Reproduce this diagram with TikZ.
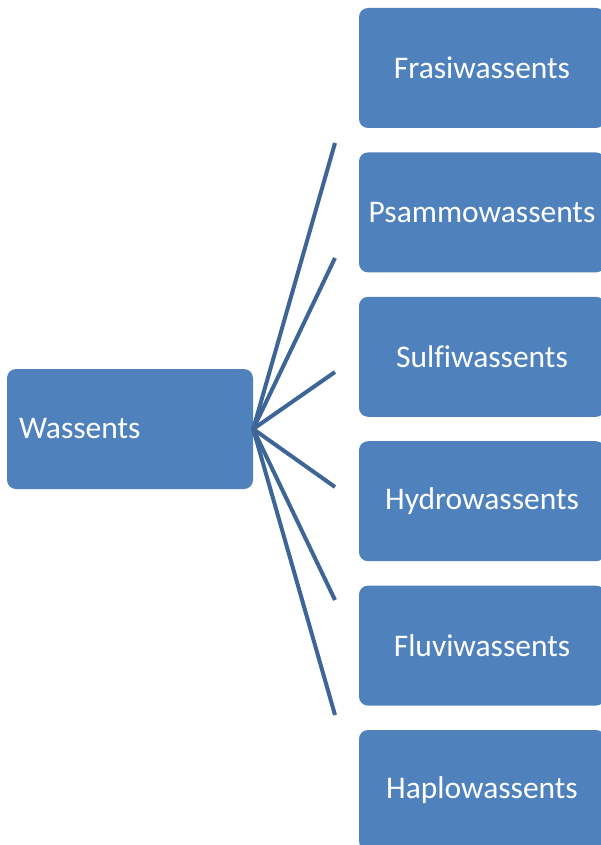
\documentclass[tikz,border=0pt]{standalone}
\usepackage{fontspec}
\setmainfont{Carlito}[Ligatures=NoCommon]
\usetikzlibrary{positioning}
\definecolor{boxblue}{HTML}{4F81BD}
\definecolor{lineblue}{HTML}{3D6596}

\begin{document}
\begin{tikzpicture}[x=1pt, y=-1pt,
  box/.style={fill=boxblue, rounded corners=9pt, minimum width=246pt,
              minimum height=120pt, inner sep=0pt, text=white,
              font=\fontsize{31.5}{36}\selectfont},
  link/.style={draw=lineblue, line width=4pt}
]
  \useasboundingbox (0,0) rectangle (600,845);
  % root on the left
  \node[box, text width=222pt, align=left] (root) at (130,429) {Wassents};
  % column of subtypes, top to bottom
  \node[box] (frasi) at (482,68) {Frasiwassents};
  \node[box, below=24pt of frasi] (psammo) {Psammowassents};
  \node[box, below=24pt of psammo] (sulfi) {Sulfiwassents};
  \node[box, below=24pt of sulfi] (hydro) {Hydrowassents};
  \node[box, below=24pt of hydro] (fluvi) {Fluviwassents};
  \node[box, below=24pt of fluvi] (haplo) {Haplowassents};
  % loose ends of the fan
  \coordinate (e1) at (335,143);
  \coordinate (e2) at (335,258);
  \coordinate (e3) at (335,372);
  \coordinate (e4) at (335,487);
  \coordinate (e5) at (335,600);
  \coordinate (e6) at (335,715);

  \foreach \e in {e1,e2,e3,e4,e5,e6}
    \draw[link] (root.east) -- (\e);
\end{tikzpicture}
\end{document}
